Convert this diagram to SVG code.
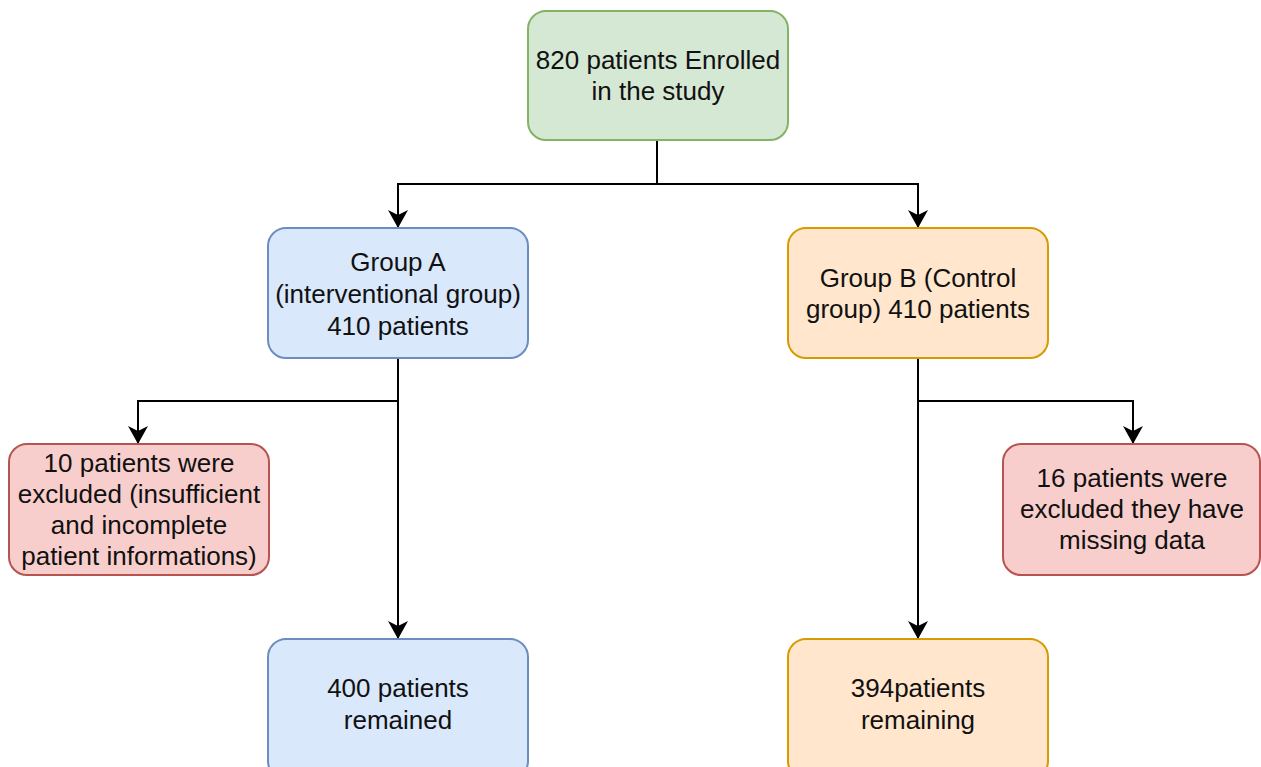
<svg xmlns="http://www.w3.org/2000/svg" width="1261" height="767" viewBox="0 0 1261 767">
<style>
text{font-family:"Liberation Sans",Arial,sans-serif;font-size:26px;fill:#111;text-anchor:middle}
.box{stroke-width:2}
.g{fill:#d5e8d4;stroke:#82b366}
.b{fill:#dae8fc;stroke:#6c8ebf}
.o{fill:#ffe6cc;stroke:#d79b00}
.r{fill:#f8cecc;stroke:#b85450}
.c{fill:none;stroke:#000;stroke-width:2}
</style>
<defs>
<marker id="ah" markerWidth="18" markerHeight="20" refX="17" refY="10" orient="auto" markerUnits="userSpaceOnUse">
<path d="M0,0 L18,10 L0,20 L5,10 Z" fill="#000"/>
</marker>
</defs>
<rect width="1261" height="767" fill="#fff"/>
<g id="connectors">
<path class="c" d="M657,140 V184 H398 V227" marker-end="url(#ah)"/>
<path class="c" d="M657,184 H918 V227" marker-end="url(#ah)"/>
<path class="c" d="M398,358 V638" marker-end="url(#ah)"/>
<path class="c" d="M398,401 H138 V443" marker-end="url(#ah)"/>
<path class="c" d="M918,358 V638" marker-end="url(#ah)"/>
<path class="c" d="M918,401 H1133 V443" marker-end="url(#ah)"/>
</g>
<g id="enrolled">
<rect class="box g" x="528" y="11" width="260" height="129" rx="18"/>
<text x="658" y="69">820 patients Enrolled</text>
<text x="658" y="100">in the study</text>
</g>
<g id="groupA">
<rect class="box b" x="268" y="228" width="260" height="130" rx="18"/>
<text x="398" y="271">Group A</text>
<text x="398" y="303">(interventional group)</text>
<text x="398" y="335">410 patients</text>
</g>
<g id="groupB">
<rect class="box o" x="788" y="228" width="260" height="130" rx="18"/>
<text x="918" y="287">Group B (Control</text>
<text x="918" y="318">group) 410 patients</text>
</g>
<g id="excludedA">
<rect class="box r" x="9" y="444" width="260" height="131" rx="18"/>
<text x="139" y="472">10 patients were</text>
<text x="139" y="503">excluded (insufficient</text>
<text x="139" y="534">and incomplete</text>
<text x="139" y="565">patient informations)</text>
</g>
<g id="excludedB">
<rect class="box r" x="1003" y="444" width="257" height="131" rx="18"/>
<text x="1132" y="487">16 patients were</text>
<text x="1132" y="518">excluded they have</text>
<text x="1132" y="549">missing data</text>
</g>
<g id="remainedA">
<rect class="box b" x="268" y="639" width="260" height="140" rx="18"/>
<text x="398" y="697">400 patients</text>
<text x="398" y="729">remained</text>
</g>
<g id="remainedB">
<rect class="box o" x="788" y="639" width="260" height="140" rx="18"/>
<text x="918" y="697">394patients</text>
<text x="918" y="729">remaining</text>
</g>
</svg>
